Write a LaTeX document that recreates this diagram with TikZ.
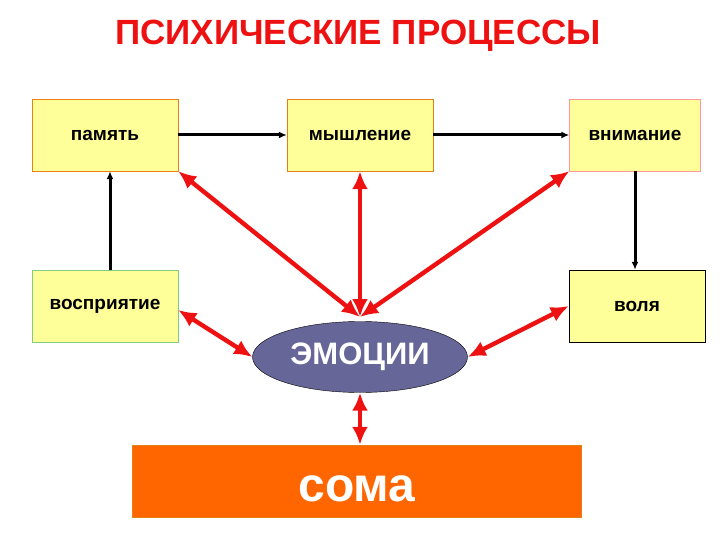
\documentclass[tikz,border=0pt]{standalone}
\usepackage{fontspec}
\setmainfont{Liberation Sans}
\usepackage{xcolor}
\usepackage{tikz}
\usetikzlibrary{arrows,arrows.meta,shapes,positioning}

\definecolor{boxyellow}{HTML}{FFFF99}
\definecolor{emoblue}{HTML}{666699}
\definecolor{somaorange}{HTML}{FF6600}
\definecolor{arrred}{HTML}{EE1111}

\begin{document}
\begin{tikzpicture}[x=1pt, y=-1pt,
        proc/.style={draw, fill=boxyellow, rectangle, inner sep=0pt,
            minimum width=146pt, minimum height=72pt,
            font=\fontsize{19}{21}\selectfont\bfseries},
        link/.style={->, >={Latex[length=8pt,width=7pt]}, line width=3pt},
        feel/.style={<->, >={Latex[length=18pt,width=16pt]}, draw=arrred, line width=4.4pt}]
        \useasboundingbox (0,0) rectangle (720,540);

        \node[text=arrred, font=\fontsize{35}{38}\selectfont\bfseries] (title) at (358,36) {ПСИХИЧЕСКИЕ ПРОЦЕССЫ};

        \node[proc, draw=orange!70!brown] (pam) at (105,135) {память};
        \node[proc, draw=orange!60!brown] (mysl) at (360,135) {мышление};
        \node[proc, draw=red!40, minimum width=131pt] (vnim) at (635,135) {внимание};

        \node[proc, draw=green!60!black!50] (vospr) at (105,306) {восприятие};
        \node[proc, draw=black, minimum width=136pt] (volya) at (637,306) {воля};

        \node[draw=black, fill=emoblue, ellipse, inner sep=0pt, minimum width=215pt, minimum height=71pt,
            text=white, font=\fontsize{31}{34}\selectfont\bfseries] (emo) at (360,357) {ЭМОЦИИ};
        \node[draw=orange!60!brown, fill=somaorange, rectangle, inner sep=0pt, minimum width=449pt, minimum height=72pt,
            text=white, font=\fontsize{48}{50}\selectfont\bfseries] (soma) at (357,481) {\raisebox{-20pt}[0pt][0pt]{сома}};

        \coordinate (top) at (360,317);

        \draw[link] (pam) -- (mysl);
        \draw[link] (mysl) -- (vnim);
        \draw[link] (vnim.south) -- (volya.north -| vnim.south);
        \draw[link] (vospr.north -| 110,0) -- (pam.south -| 110,0);

        \draw[feel] (pam.south east) -- (top);
        \draw[feel] (mysl.south) -- (top);
        \draw[feel] (vnim.south west) -- (top);
        \draw[feel] (vospr.east) ++(0,4) -- (emo.west);
        \draw[feel] (volya.west) -- (emo.east);
        \draw[feel] (emo.south) -- (emo.south |- soma.north);
    \end{tikzpicture}
\end{document}
